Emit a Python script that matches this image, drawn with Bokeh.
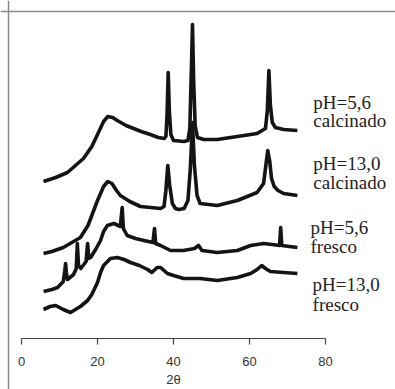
from bokeh.plotting import figure
from bokeh.models import Range1d, FixedTicker, Span, ColumnDataSource
from bokeh.core.properties import value
from bokeh.embed import file_html
from bokeh.resources import INLINE

# ---- data (2θ in degrees, intensity in arbitrary units, curves already offset) ----
tt_ph56_calc = [5.8, 9, 12.1, 16.3, 18.5, 20, 21.6, 22.7, 24, 25.2, 27.5, 29.5, 31.5, 33.9, 36, 37.6,
                38.0, 38.3, 38.6, 38.9, 39.3, 40, 42.7, 43.8, 44.3, 44.7, 45.0, 45.3, 45.7, 46.3, 48,
                51.5, 56.8, 62, 64.2, 64.7, 65.1, 65.5, 66.0, 66.8, 69, 72.6]
py_ph56_calc = [181, 177, 172, 158, 146, 134, 121, 116, 117, 120, 125, 128, 131, 134, 137, 138,
                136, 115, 72, 110, 134, 140, 141, 140, 128, 70, 24, 80, 125, 137, 139,
                139, 136, 133, 128, 110, 70, 105, 122, 127, 129, 130]

tt_ph13_calc = [5.8, 8, 11, 15.5, 17.5, 18.7, 20, 20.8, 21.6, 22.7, 23.8, 25, 26, 28.5, 31.3, 34, 36.6,
                37.5, 38.0, 38.5, 39.0, 39.7, 40.5, 41.4, 42.8, 43.8, 44.4, 45.0, 45.5, 46.2, 47,
                51.5, 56.8, 62, 63.7, 64.3, 64.8, 65.3, 65.8, 66.5, 67.5, 69, 72.6]
py_ph13_calc = [253, 251, 247, 237, 225, 213, 200, 193, 186, 181, 183, 190, 195, 201, 206, 207, 208,
                206, 190, 165, 185, 203, 208, 209, 208, 200, 170, 122, 165, 195, 203,
                205, 200, 192, 183, 165, 150, 160, 178, 186, 190, 193, 195]

tt_ph56_fres = [5.8, 8, 9.5, 11, 11.4, 11.6, 11.8, 12.1, 13.7, 14.4, 14.7, 15.0, 15.6, 17.0, 17.4, 17.7,
                18.2, 19.5, 20.8, 21.6, 22.6, 24.3, 26.0, 26.5, 26.8, 27.8, 30, 32.2, 34.6, 35.0, 35.3,
                36.6, 39.2, 42.6, 45.5, 46.6, 47.5, 51.5, 56.8, 60.3, 63.7, 66, 67.9, 68.2, 68.5, 70.5, 72.6]
py_ph56_fres = [291, 289, 287, 281, 270, 263, 272, 279, 274, 268, 243, 265, 268, 261, 243, 258,
                257, 249, 240, 231, 225, 223, 226, 207, 228, 235, 238, 240, 242, 228, 243,
                245, 250, 250, 248, 245, 250, 252, 250, 245, 243, 244, 245, 227, 245, 246, 247]

tt_ph13_fres = [5.8, 7.5, 9, 11, 12.9, 15.5, 17.4, 18.5, 20, 20.8, 21.6, 23.4, 25.2, 27, 28.7, 31, 33.2,
                34.3, 35.7, 36.6, 38.4, 40, 42.7, 47, 51.5, 56.8, 60.3, 62, 63.2, 64.2, 65.5, 69, 72.6]
py_ph13_fres = [309, 306, 305, 309, 312, 306, 300, 294, 282, 272, 265, 258, 257, 259, 262, 265, 269,
                272, 267, 267, 273, 275, 278, 278, 280, 277, 273, 269, 265, 268, 271, 272, 273]

AXIS_ROW = 338  # reference row of the 2θ axis
series = [
    (tt_ph56_calc, [AXIS_ROW - v for v in py_ph56_calc]),
    (tt_ph13_calc, [AXIS_ROW - v for v in py_ph13_calc]),
    (tt_ph56_fres, [AXIS_ROW - v for v in py_ph56_fres]),
    (tt_ph13_fres, [AXIS_ROW - v for v in py_ph13_fres]),
]

label_text = ["pH=5,6", "calcinado", "pH=13,0", "calcinado",
              "pH=5,6", "fresco", "pH=13,0", "fresco"]
label_x = [76.8, 76.8, 76.8, 76.8, 76.05, 76.05, 76.6, 76.6]
label_y = [236.5, 218, 175, 156, 111, 92, 54, 34]

x_ticks = [0, 20, 40, 60, 80]

# ---- figure ----
W, H = 395, 389
px_per_unit = 3.8
x0 = -21 / px_per_unit
x1 = x0 + W / px_per_unit

p = figure(width=W, height=H, output_backend="svg", toolbar_location=None,
           x_range=Range1d(x0, x1), y_range=Range1d(-51, 338),
           y_axis_location=None, min_border=0, min_border_left=0, min_border_right=0,
           min_border_top=0, min_border_bottom=0)
p.grid.visible = False
p.outline_line_color = None
p.background_fill_color = "white"
p.border_fill_color = "white"

# partial frame (left + top) like the cropped original
p.add_layout(Span(location=x0 + 8 / px_per_unit, dimension="height",
                  line_color="#8a8a8a", line_width=1.5))
p.add_layout(Span(location=327, dimension="width",
                  line_color="#8a8a8a", line_width=1.5))

for xs, ys in series:
    p.line(xs, ys, line_color="#141414", line_width=3.6, line_join="round")

src = ColumnDataSource(dict(x=label_x, y=label_y, t=label_text))
p.text(x="x", y="y", text="t", source=src, text_font=value("Liberation Serif"),
       text_font_size="19px", text_color="#222222", text_align="left",
       text_baseline="alphabetic")

ax = p.xaxis[0]
ax.fixed_location = 0
ax.bounds = (0, 80)
ax.ticker = FixedTicker(ticks=x_ticks)
ax.minor_tick_line_color = None
ax.major_tick_in = 0
ax.major_tick_out = 6
ax.axis_line_color = "#444444"
ax.major_tick_line_color = "#444444"
ax.axis_line_width = 1.2
ax.major_tick_line_width = 1.2
ax.major_label_text_font = "Liberation Sans"
ax.major_label_text_font_size = "13px"
ax.major_label_text_color = "#333333"
ax.major_label_standoff = 12
ax.axis_label = "2θ"
ax.axis_label_text_font = "Liberation Sans"
ax.axis_label_text_font_size = "13px"
ax.axis_label_text_font_style = "normal"
ax.axis_label_text_color = "#333333"
ax.axis_label_standoff = 3

open("out.html", "w").write(file_html(p, INLINE))
